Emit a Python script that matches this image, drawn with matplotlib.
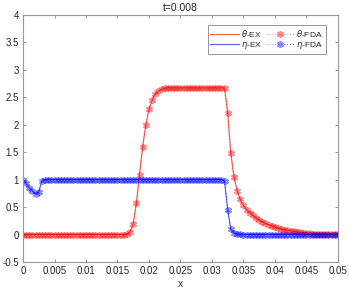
import numpy as np
import matplotlib
matplotlib.use("Agg")
import matplotlib.pyplot as plt

plt.rcParams['font.family'] = ['Liberation Sans', 'DejaVu Sans']
plt.rcParams['mathtext.fontset'] = 'dejavusans'

title = "t=0.008"
xlabel = "x"
x = np.linspace(0.0, 0.05, 101)

theta = [
    0.0, 0.0, 0.0, 0.0, 0.0, 0.0, 0.0, 0.0, 0.0, 0.0,
    0.0, 0.0, 0.0, 0.0, 0.0, 0.0, 0.0, 0.0, 0.0, 0.0,
    0.0, 0.0, 0.0, 0.0, 0.0, 0.0, 0.0, 0.0, 0.0, 0.0,
    0.0, 0.0, 0.0, 0.005, 0.05, 0.19, 0.57, 1.09, 1.60, 2.00,
    2.28, 2.45, 2.56, 2.62, 2.65, 2.665, 2.67, 2.67, 2.67, 2.67,
    2.67, 2.67, 2.67, 2.67, 2.67, 2.67, 2.67, 2.67, 2.67, 2.67,
    2.67, 2.67, 2.67, 2.67, 2.67, 2.22, 1.48, 1.05, 0.80, 0.64,
    0.53, 0.45, 0.40, 0.35, 0.30, 0.27, 0.235, 0.205, 0.18, 0.16,
    0.14, 0.12, 0.105, 0.09, 0.078, 0.067, 0.057, 0.048, 0.04, 0.033,
    0.027, 0.022, 0.018, 0.014, 0.011, 0.009, 0.007, 0.005, 0.004, 0.003,
    0.002,
]

eta = [
    1.0, 0.93, 0.85, 0.79, 0.74, 0.78, 0.98, 1.0, 1.0, 1.0,
    1.0, 1.0, 1.0, 1.0, 1.0, 1.0, 1.0, 1.0, 1.0, 1.0,
    1.0, 1.0, 1.0, 1.0, 1.0, 1.0, 1.0, 1.0, 1.0, 1.0,
    1.0, 1.0, 1.0, 1.0, 1.0, 1.0, 1.0, 1.0, 1.0, 1.0,
    1.0, 1.0, 1.0, 1.0, 1.0, 1.0, 1.0, 1.0, 1.0, 1.0,
    1.0, 1.0, 1.0, 1.0, 1.0, 1.0, 1.0, 1.0, 1.0, 1.0,
    1.0, 1.0, 1.0, 1.0, 0.98, 0.45, 0.10, 0.025, 0.008, 0.003,
    0.0, 0.0, 0.0, 0.0, 0.0, 0.0, 0.0, 0.0, 0.0, 0.0,
    0.0, 0.0, 0.0, 0.0, 0.0, 0.0, 0.0, 0.0, 0.0, 0.0,
    0.0, 0.0, 0.0, 0.0, 0.0, 0.0, 0.0, 0.0, 0.0, 0.0,
    0.0,
]

labels = [r"$\theta$-EX", r"$\eta$-EX", r"$\theta$-FDA", r"$\eta$-FDA"]
xticks = [0, 0.005, 0.01, 0.015, 0.02, 0.025, 0.03, 0.035, 0.04, 0.045, 0.05]
xticklabels = ["0", "0.005", "0.01", "0.015", "0.02", "0.025", "0.03", "0.035", "0.04", "0.045", "0.05"]
yticks = [-0.5, 0, 0.5, 1, 1.5, 2, 2.5, 3, 3.5, 4]
yticklabels = ["-0.5", "0", "0.5", "1", "1.5", "2", "2.5", "3", "3.5", "4"]

fig = plt.figure(figsize=(3.49, 2.95), dpi=100)
ax = fig.add_axes([0.066, 0.112, 0.902, 0.837])

red_line = '#ff5a5a'
blue_line = '#5a5aff'
asterisk = (6, 2, 0)
h1, = ax.plot(x, theta, color=red_line, lw=0.8)
h2, = ax.plot(x, eta, color=blue_line, lw=0.8)
h3, = ax.plot(x, theta, color='red', ls=':', lw=0.8, marker=asterisk, ms=5,
              mew=1.2, alpha=0.45)
h4, = ax.plot(x, eta, color='blue', ls=':', lw=0.8, marker=asterisk, ms=5,
              mew=1.2, alpha=0.45)

ax.set_xlim(0, 0.05)
ax.set_ylim(-0.5, 4)
ax.set_xticks(xticks)
ax.set_xticklabels(xticklabels)
ax.set_yticks(yticks)
ax.set_yticklabels(yticklabels)
ax.tick_params(direction='in', length=2.5, width=0.6, labelsize=7,
               colors='#888888', labelcolor='#262626', top=True, right=True,
               pad=3)
for s in ax.spines.values():
    s.set_color('#999999')
    s.set_linewidth(0.8)

ax.set_title(title, fontsize=7.5, color='#262626', pad=3)
ax.set_xlabel(xlabel, fontsize=7.5, color='#262626', labelpad=2)

leg = ax.legend([h1, h2, h3, h4], labels, ncol=2, loc='upper right',
                bbox_to_anchor=(0.975, 0.975), fontsize=6, fancybox=False,
                framealpha=1, edgecolor='#888888', handlelength=3.4,
                handletextpad=0.3, columnspacing=0.4, borderpad=0.3,
                labelspacing=0.15, markerscale=1.0)
leg.get_frame().set_linewidth(0.6)
for t in leg.get_texts():
    t.set_color('#262626')

fig.savefig("out.png", dpi=100)
